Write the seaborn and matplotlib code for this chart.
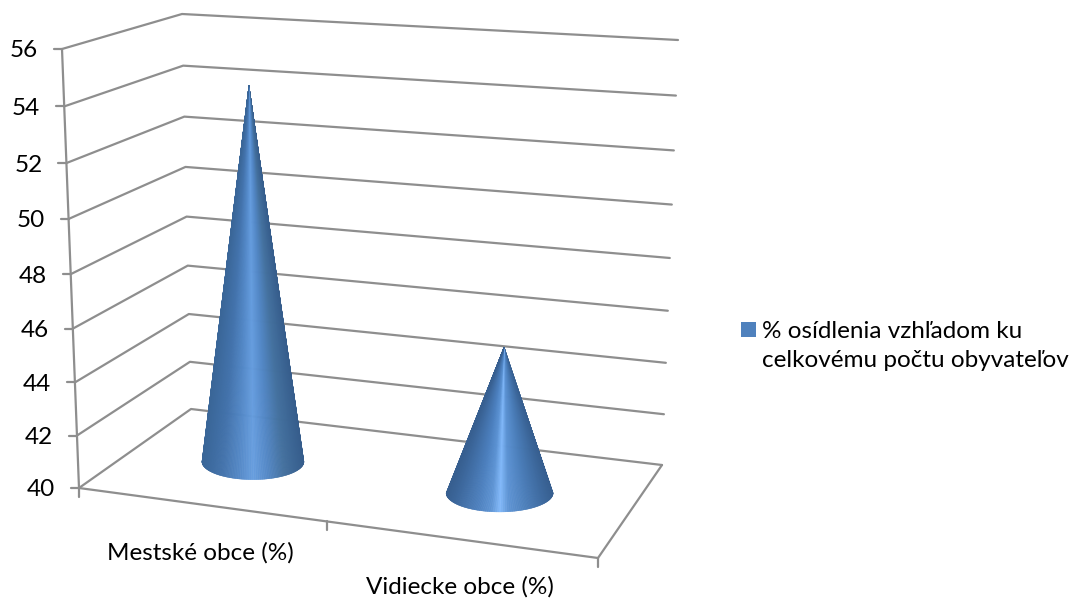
import numpy as np
import pandas as pd
import seaborn as sns
import matplotlib.pyplot as plt
from matplotlib.collections import PolyCollection
from matplotlib.colors import LinearSegmentedColormap
from matplotlib.patches import Rectangle

categories = ["Mestské obce (%)", "Vidiecke obce (%)"]
values = [54.3, 45.5]
y_ticks = [40, 42, 44, 46, 48, 50, 52, 54, 56]
legend_label = "% osídlenia vzhľadom ku\ncelkovému počtu obyvateľov"

# box corners in pixels, (u, depth) order: front-left, front-right, back-left, back-right
FLOOR = np.array([[79, 488], [598, 558], [191, 409], [662, 465]], dtype=float)
ROOF = np.array([[62, 49], [628, 88], [182, 14], [678, 40]], dtype=float)
GREY = "#8e8e8e"

sns.set_theme(style="white")
plt.rcParams["font.family"] = ["Lato", "DejaVu Sans"]


def project(u, d, v):
    # warp a bit for the perspective of the excel 3d chart
    u2 = u / (1.09 - 0.09 * u)
    t = (v - y_ticks[0]) / (y_ticks[-1] - y_ticks[0])
    s = t / (1.053 - 0.053 * t)

    def plane(c):
        front = c[0] + (c[1] - c[0]) * u2
        back = c[2] + (c[3] - c[2]) * u2
        return front + (back - front) * d

    low, high = plane(FLOOR), plane(ROOF)
    return low + (high - low) * s


def segments(paths):
    rows = []
    for i, path in enumerate(paths):
        for x, y in path:
            rows.append({"seg": i, "x": x, "y": y})
    return pd.DataFrame(rows)


fig, ax = plt.subplots(figsize=(10.75, 5.98), dpi=100)
fig.subplots_adjust(0, 0, 1, 1)

# walls
grid = []
for v in y_ticks:
    grid.append([project(0, 0, v), project(0, 1, v), project(1, 1, v)])
    p = project(0, 0, v)
    grid.append([p, p - np.array([8, 0])])
grid.append([project(0, 0, y_ticks[0]), project(0, 0, y_ticks[-1])])

# floor and category ticks
grid.append([project(0, 0, 40), project(1, 0, 40), project(1, 1, 40)])
for u in [0, 0.5, 1]:
    p = project(u, 0, 40)
    grid.append([p, p + np.array([0, 9])])

sns.lineplot(data=segments(grid), x="x", y="y", units="seg", estimator=None, sort=False,
             color=GREY, linewidth=1.6, ax=ax)

# cones, one thin facet per step round the front of the base
cone_u = [0.25, 0.75]
cone_d = 0.52
base_rx = [51, 53.5]
base_ry = [18, 19]
cmaps = [
    LinearSegmentedColormap.from_list("c1", [(0, "#3a6698"), (0.2, "#4373ac"), (0.36, "#5287c6"),
                                             (0.5, "#659ddf"), (0.64, "#5287c6"), (0.8, "#44719f"),
                                             (1, "#365d8c")]),
    LinearSegmentedColormap.from_list("c2", [(0, "#375f90"), (0.3, "#4c80bf"), (0.42, "#5c93d4"),
                                             (0.5, "#80b8fa"), (0.58, "#5c93d4"), (0.75, "#4a7db9"),
                                             (1, "#375f90")]),
]
theta = np.linspace(0, np.pi, 241)
for i, val in enumerate(values):
    c = project(cone_u[i], cone_d, y_ticks[0])
    apex = project(cone_u[i], cone_d, val)
    rim = np.column_stack([c[0] + base_rx[i] * np.cos(theta), c[1] + base_ry[i] * np.sin(theta)])
    polys = [[apex, rim[k], rim[k + 1]] for k in range(len(rim) - 1)]
    cols = cmaps[i]((1 + np.cos((theta[:-1] + theta[1:]) / 2)) / 2)
    ax.add_collection(PolyCollection(polys, facecolors=cols, edgecolors=cols, linewidths=0.3, zorder=3))

# axis text
for v in y_ticks:
    p = project(0, 0, v)
    ax.text(p[0] - 24, p[1] + 2, str(v), ha="right", va="center", fontsize=17.5, color="black")
ax.text(200, 553, categories[0], ha="center", va="center", fontsize=17.5, color="black")
ax.text(460, 587, categories[1], ha="center", va="center", fontsize=17.5, color="black")

# legend
ax.add_patch(Rectangle((741, 322), 15, 15, facecolor="#4f81bd", edgecolor="none"))
ax.text(762, 346, legend_label, ha="left", va="center", fontsize=17.5, color="black", linespacing=1.5)

ax.set_xlim(0, 1075)
ax.set_ylim(598, 0)
ax.set_axis_off()
fig.savefig("out.png", dpi=100)
